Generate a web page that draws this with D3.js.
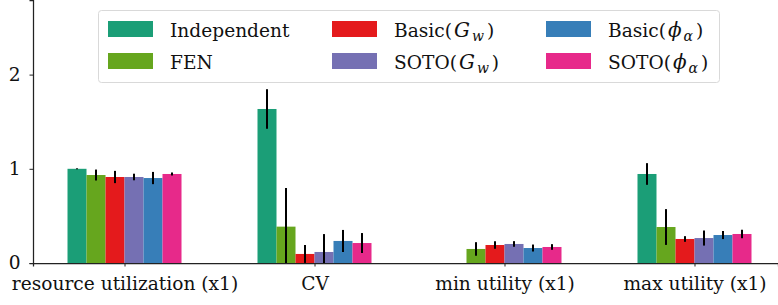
<!DOCTYPE html>
<html>
<head>
<meta charset="utf-8">
<script src="https://cdn.jsdelivr.net/npm/d3@7"></script>
<style>
  body { margin: 0; background: #fff; }
  svg { display: block; }
</style>
</head>
<body>
<svg id="chart" width="778" height="305"></svg>
<script>
// categories on the x axis
var groups = ["resource utilization (x1)", "CV", "min utility (x1)", "max utility (x1)"];
// series (legend order)
var methods = ["Independent", "FEN", "Basic(Gw)", "SOTO(Gw)", "Basic(phi)", "SOTO(phi)"];
var colors = ["#1b9e77", "#66a61e", "#e41a1c", "#7570b3", "#377eb8", "#e7298a"];
// mean values per method, one entry per group (null = no bar)
var independent = [1.00, 1.635, null, 0.945];
var fen         = [0.934, 0.386, 0.149, 0.382];
var basicGw     = [0.913, 0.096, 0.191, 0.255];
var sotoGw      = [0.913, 0.117, 0.202, 0.265];
var basicPhi    = [0.902, 0.234, 0.159, 0.297];
var sotoPhi     = [0.945, 0.212, 0.170, 0.308];
// error bar half-heights
var independentErr = [0.005, 0.21, null, 0.115];
var fenErr         = [0.058, 0.41, 0.072, 0.19];
var basicGwErr     = [0.065, 0.095, 0.040, 0.030];
var sotoGwErr      = [0.035, 0.19, 0.030, 0.080];
var basicPhiErr    = [0.065, 0.117, 0.037, 0.043];
var sotoPhiErr     = [0.016, 0.106, 0.030, 0.045];
var yTicks = [0, 1, 2];

var values = [independent, fen, basicGw, sotoGw, basicPhi, sotoPhi];
var errors = [independentErr, fenErr, basicGwErr, sotoGwErr, basicPhiErr, sotoPhiErr];

const FONT = '"DejaVu Serif", serif';
const FSIZE = '18.6px';
const svg = d3.select('#chart');
const mLeft = 33, mBottom = 263, mTop = 0, mRight = 778;
const barW = 0.1;

// x in "group units": group i sits at i
const xScale = d3.scaleLinear().domain([-0.4816, 3.4395]).range([mLeft, mRight]);
const yScale = d3.scaleLinear().domain([0, 2.792]).range([mBottom, mTop]);

svg.append('clipPath').attr('id', 'plotclip')
  .append('rect').attr('x', mLeft).attr('y', mTop).attr('width', mRight - mLeft).attr('height', mBottom - mTop);

const plot = svg.append('g').attr('clip-path', 'url(#plotclip)');

// flatten for drawing
var bars = [];
methods.forEach((m, j) => {
  groups.forEach((g, i) => {
    if (values[j][i] !== null) {
      bars.push({ g: i, j: j, v: values[j][i], e: errors[j][i] });
    }
  });
});
const bx = d => d.g + (d.j - 2.5) * barW;

plot.selectAll('rect.bar')
  .data(bars)
  .enter()
  .append('rect')
  .attr('class', 'bar')
  .attr('x', d => xScale(bx(d) - barW / 2))
  .attr('width', d => xScale(barW) - xScale(0))
  .attr('y', d => yScale(d.v))
  .attr('height', d => yScale(0) - yScale(d.v))
  .attr('fill', d => colors[d.j]);

plot.selectAll('line.err')
  .data(bars)
  .enter()
  .append('line')
  .attr('class', 'err')
  .attr('x1', d => xScale(bx(d)))
  .attr('x2', d => xScale(bx(d)))
  .attr('y1', d => yScale(d.v - d.e))
  .attr('y2', d => yScale(d.v + d.e))
  .attr('stroke', '#000')
  .attr('stroke-width', 2);

// axes
const xAxis = svg.append('g')
  .attr('transform', `translate(0, ${mBottom})`)
  .call(d3.axisBottom(xScale).tickValues(d3.range(groups.length)).tickFormat(i => groups[i]).tickSizeOuter(0).tickSize(3.5).tickPadding(10));
const yAxis = svg.append('g')
  .attr('transform', `translate(${mLeft}, 0)`)
  .call(d3.axisLeft(yScale).tickValues(yTicks).tickFormat(d3.format('d')).tickSizeOuter(0).tickSize(3.5).tickPadding(9));

[xAxis, yAxis].forEach(a => {
  a.attr('font-family', FONT);
  a.select('.domain').attr('stroke', '#222').attr('stroke-width', 1.25);
  a.selectAll('.tick line').attr('stroke', '#222').attr('stroke-width', 1);
  a.selectAll('.tick text').attr('fill', '#111')
    .style('font-family', FONT).style('font-size', FSIZE);
});

// legend
const legend = svg.append('g').attr('font-family', FONT);
legend.append('rect')
  .attr('x', 98.5).attr('y', 10.5).attr('width', 621).attr('height', 72)
  .attr('rx', 3)
  .attr('fill', '#fff').attr('fill-opacity', 0.8)
  .attr('stroke', '#d9d9d9').attr('stroke-width', 1);

const colX = [108, 332, 546];
const rowY = [21, 53];
const labelParts = [
  [['Independent']],
  [['FEN']],
  [['Basic('], ['G', 'it'], ['w', 'sub'], [')']],
  [['SOTO('], ['G', 'it'], ['w', 'sub'], [')']],
  [['Basic('], ['\u03D5', 'it'], ['\u03B1', 'sub'], [')']],
  [['SOTO('], ['\u03D5', 'it'], ['\u03B1', 'sub'], [')']]
];

methods.forEach((m, k) => {
  const c = Math.floor(k / 2), r = k % 2;
  const gx = colX[c], gy = rowY[r];
  legend.append('rect')
    .attr('x', gx).attr('y', gy).attr('width', 45).attr('height', 16)
    .attr('fill', colors[k]);
  const t = legend.append('text')
    .attr('x', gx + 62).attr('y', gy + 16)
    .style('font-family', FONT)
    .style('font-size', FSIZE)
    .attr('fill', '#111');
  labelParts[k].forEach(p => {
    const ts = t.append('tspan').text(p[0]);
    if (p[1] === 'it') ts.style('font-style', 'italic').style('font-size', '20px').attr('dx', 2);
    if (p[1] === 'sub') ts.style('font-style', 'italic').style('font-size', '14px').attr('dx', 2).attr('dy', 4);
    if (p[1] !== 'sub' && p[0] === ')') ts.attr('dx', 3).attr('dy', -4);
  });
});
</script>
</body>
</html>
